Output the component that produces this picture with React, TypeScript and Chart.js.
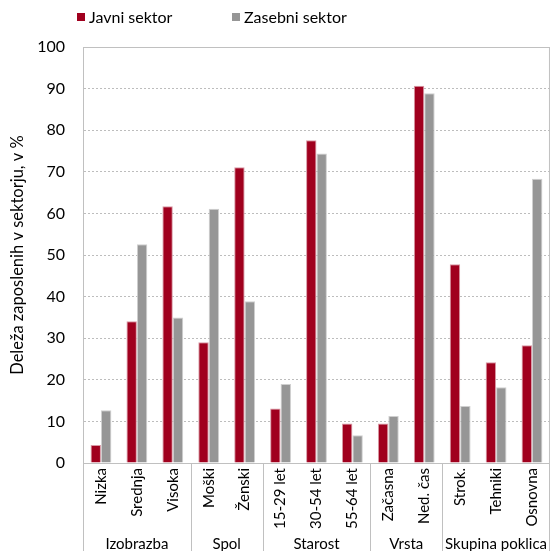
import React, { useEffect, useRef } from "react";
import { Chart, registerables } from "chart.js";

Chart.register(...registerables);

const categories = ["Nizka", "Srednja", "Visoka", "Moški", "Ženski", "15-29 let", "30-54 let", "55-64 let", "Začasna", "Ned. čas", "Strok.", "Tehniki", "Osnovna"];
const javni = [4.3, 34.1, 61.7, 29.0, 71.1, 13.1, 77.6, 9.5, 9.5, 90.7, 47.8, 24.2, 28.3];
const zasebni = [12.7, 52.6, 35.0, 61.1, 38.9, 19.0, 74.4, 6.7, 11.3, 88.9, 13.7, 18.2, 68.3];
const groups = [
  { label: "Izobrazba", size: 3 },
  { label: "Spol", size: 2 },
  { label: "Starost", size: 3 },
  { label: "Vrsta", size: 2 },
  { label: "Skupina poklica", size: 3 },
];
const seriesNames = ["Javni sektor", "Zasebni sektor"];
const yTitle = "Deleža zaposlenih v sektorju, v %";

const RED = "#a0001e";
const GRAY = "#969696";
const LINE = "#c0c0c0";
const FONT = "Lato";

const decorPlugin = {
  id: "decor",
  afterDraw(chart: any) {
    const ctx = chart.ctx;
    const area = chart.chartArea;
    const x = chart.scales.x;
    ctx.save();
    ctx.strokeStyle = LINE;
    ctx.lineWidth = 1;
    ctx.setLineDash([]);
    ctx.beginPath();
    ctx.moveTo(area.left + 0.5, area.bottom);
    ctx.lineTo(area.left + 0.5, area.top + 0.5);
    ctx.lineTo(area.right - 0.5, area.top + 0.5);
    ctx.lineTo(area.right - 0.5, area.bottom);
    ctx.stroke();
    const bottom = chart.height;
    let idx = 0;
    const bounds: number[] = [area.left];
    groups.forEach((g) => {
      idx += g.size;
      if (idx >= categories.length) bounds.push(area.right);
      else bounds.push((x.getPixelForValue(idx - 1) + x.getPixelForValue(idx)) / 2);
    });
    ctx.beginPath();
    bounds.forEach((b, i) => {
      const px = i === bounds.length - 1 ? Math.round(b) - 0.5 : Math.round(b) + 0.5;
      ctx.moveTo(px, area.bottom);
      ctx.lineTo(px, bottom);
    });
    ctx.stroke();
    ctx.fillStyle = "#000";
    ctx.font = `15px ${FONT}`;
    ctx.textAlign = "center";
    ctx.textBaseline = "alphabetic";
    groups.forEach((g, i) => {
      const cx = (bounds[i] + bounds[i + 1]) / 2;
      ctx.fillText(g.label, cx, 549);
    });
    const colors = [RED, GRAY];
    const lx = [77, 232];
    ctx.font = `16px ${FONT}`;
    ctx.textAlign = "left";
    ctx.textBaseline = "middle";
    seriesNames.forEach((n, i) => {
      ctx.fillStyle = colors[i];
      ctx.fillRect(lx[i], 13, 8, 8);
      ctx.fillStyle = "#000";
      ctx.fillText(n, lx[i] + 12, 18);
    });
    ctx.restore();
  },
};

export default function App() {
  const ref = useRef<HTMLCanvasElement>(null);
  useEffect(() => {
    document.body.style.margin = "0";
    const chart = new Chart(ref.current!, {
      type: "bar",
      data: {
        labels: categories,
        datasets: [
          { label: seriesNames[0], data: javni, backgroundColor: RED, borderColor: "#d899a5", borderWidth: 1, borderSkipped: "bottom" },
          { label: seriesNames[1], data: zasebni, backgroundColor: GRAY, borderColor: "#cfcfcf", borderWidth: 1, borderSkipped: "bottom" },
        ],
      },
      options: {
        animation: false,
        responsive: false,
        maintainAspectRatio: false,
        layout: { padding: { top: 47, right: 0, bottom: 0, left: 0 } },
        datasets: { bar: { categoryPercentage: 0.58, barPercentage: 1 } },
        plugins: { legend: { display: false }, tooltip: { enabled: false } },
        scales: {
          x: {
            grid: { display: false, drawTicks: false },
            border: { display: true, color: LINE },
            ticks: { color: "#000", font: { family: FONT, size: 15 }, minRotation: 90, maxRotation: 90, padding: 5, autoSkip: false },
            afterFit: (s: any) => { s.height = 88; },
          },
          y: {
            min: 0,
            max: 100,
            grid: { color: "#bdbdbd", drawTicks: false },
            border: { display: true, color: LINE, dash: [2, 2] },
            ticks: { stepSize: 10, color: "#000", font: { family: FONT, size: 16 }, padding: 18 },
            title: { display: true, text: yTitle, color: "#000", font: { family: FONT, size: 16.5 }, padding: { top: 8, bottom: 0 } },
            afterFit: (s: any) => { s.width = 83; },
          },
        },
      },
      plugins: [decorPlugin],
    });
    return () => chart.destroy();
  }, []);
  return <canvas ref={ref} width={555} height={551} style={{ display: "block" }} />;
}
